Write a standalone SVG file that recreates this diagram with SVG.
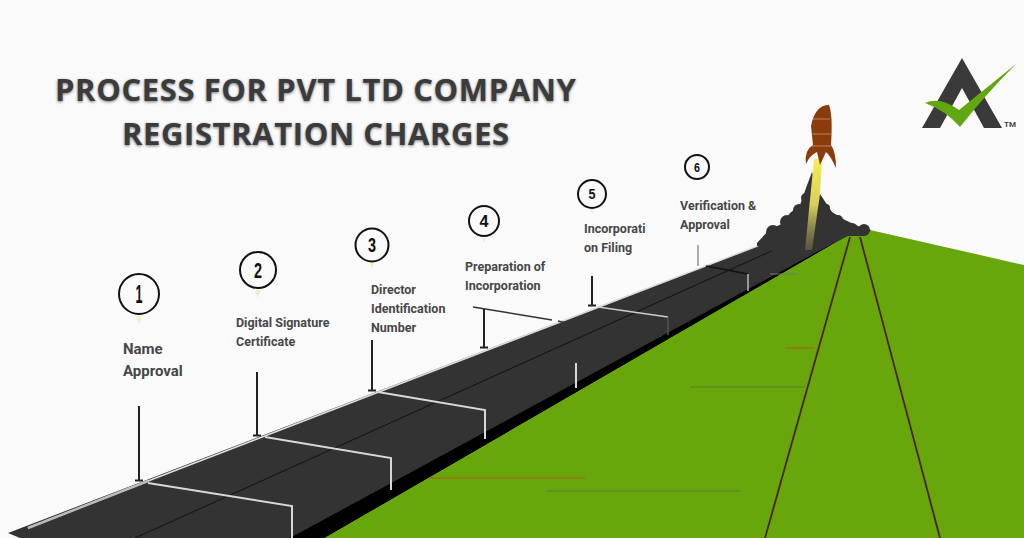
<svg xmlns="http://www.w3.org/2000/svg" width="1024" height="538" viewBox="0 0 1024 538">
<defs>
<filter id="sh" x="-5%" y="-20%" width="110%" height="140%"><feGaussianBlur stdDeviation="1.6"/></filter>
<filter id="sf" x="-5%" y="-5%" width="110%" height="110%"><feGaussianBlur stdDeviation="0.4"/></filter>
<linearGradient id="fl" x1="0" y1="0" x2="0" y2="1"><stop offset="0" stop-color="#f6ec5a"/><stop offset="0.5" stop-color="#d9cf5a"/><stop offset="1" stop-color="#8d8a50" stop-opacity="0.4"/></linearGradient>
</defs>
<style>
.t{font-family:"Open Sans","Liberation Sans",sans-serif;font-weight:700;font-size:31px;letter-spacing:.6px;fill:#3b3b3b}
.ts{fill:#777}
.l{font-family:Roboto,"Liberation Sans",sans-serif;font-weight:700;fill:#474747}
.c{fill:none;stroke:#111;stroke-width:2}
.n{font-family:"Liberation Sans",sans-serif;font-weight:700;fill:#111;text-anchor:middle}
.post{stroke:#222;stroke-width:2;fill:none}
.w{stroke:#d8d8d8;stroke-width:2;fill:none}
.y{fill:#f4efc0}
</style>
<rect width="1024" height="538" fill="#fafafa"/>
<g id="title">
<text class="t ts" x="55" y="102" filter="url(#sh)">PROCESS FOR PVT LTD COMPANY</text>
<text class="t ts" x="122" y="146" filter="url(#sh)">REGISTRATION CHARGES</text>
<text class="t" x="55" y="101">PROCESS FOR PVT LTD COMPANY</text>
<text class="t" x="122" y="145">REGISTRATION CHARGES</text>
</g>
<g id="logo">
<path d="M922 128L962 58L1002 128H984L962 88L940 128Z" fill="#3a3a3a"/>
<path d="M925 103Q940 96 959 110L1016 64Q985 95 960 127Q945 110 925 103Z" fill="#62a70f"/>
<text x="1004" y="127" font-family="Roboto,sans-serif" font-weight="700" font-size="8" fill="#444">TM</text>
</g>
<g id="ground">
<path d="M324 538L848 235L870 230L1024 265V538Z" fill="#68a70b"/>
<path d="M290 538L848 235L324 538Z" fill="#000"/>
<path d="M298 538L848 235L324 538Z" fill="#000"/>
</g>
<g id="road">
<path d="M8 533L760 245L800 232L848 235L300 538H20Z" fill="#333"/>
<path d="M290 538L848 235L324 538Z" fill="#000"/>
<path d="M28 528L148 481L760 245" fill="none" stroke="#ddd" stroke-width="1.5"/>
<path d="M28 528L148 481" fill="none" stroke="#bbb" stroke-width="2.5"/>
<path d="M135 538L787 244" stroke="#111" stroke-width="1" fill="none"/>
</g>
<g id="smoke" fill="#333">
<path d="M757 243L770 229L782 224L790 213L800 205L806 188L812 172L820 194L832 212L845 220L858 226L871 230L865 236L848 236L800 260L757 246Z"/>
<circle cx="773" cy="232" r="7"/><circle cx="787" cy="222" r="7"/><circle cx="799" cy="210" r="6"/><circle cx="806" cy="198" r="5"/><circle cx="864" cy="230" r="6"/><circle cx="852" cy="229" r="6"/><circle cx="838" cy="220" r="5"/><circle cx="826" cy="208" r="4"/>
</g>
<g id="rocket">
<path d="M814 159L822 159L820 194L812 250L805 250Z" fill="url(#fl)"/>
<path d="M806 164Q804 150 813 145L811 126Q815 105 829 105Q833 115 831 145Q836 152 836 168Q830 155 826 152L820 165L817 152Q810 155 806 164Z" transform="translate(0,0)" fill="#8a3c0a"/>
<path d="M813 119H830M811 134H831M812 146H831" stroke="#e0b090" stroke-width=".6" fill="none"/>
</g>
<g id="connectors">
<path class="w" d="M148 483L292 506V538M265 437L391 458V490M378 392L485 410V439M576 363V388"/>
<path d="M473 307L552 320M558 321L566 323" stroke="#333" stroke-width="1.5" fill="none"/>
<path d="M598 307L668 317" stroke="#ccc" stroke-width="1.5" fill="none"/><path d="M668 317V335" stroke="#555" stroke-width="1.5"/>
<path d="M706 266L748 274" stroke="#111" stroke-width="1.5" fill="none"/><path d="M748 274V291" stroke="#bbb" stroke-width="1.5"/>
<path class="post" d="M139 406V480M135 480.500H143M257 372V435M253 435.500H261M372 340V390M368 390.500H376M484 309V347M480 347.500H488M592 276V305M588 305.500H596"/>
<path d="M698 245V266" stroke="#777" stroke-width="1.2"/>
<path d="M765 538L850 237M860 237L940 538" stroke="#4a2408" stroke-width="1.8" fill="none"/>
<path d="M770 274H798" stroke="#777" stroke-width="1"/>
<path d="M785 348H815" stroke="#b5561c" stroke-width="1"/>
<path d="M690 387H805" stroke="#5a7a2a" stroke-width="1"/>
<path d="M430 478H585" stroke="#b5561c" stroke-width="1"/>
<path d="M547 491H740" stroke="#5a7a3a" stroke-width="1"/>
</g>
<g id="step1"><circle class="c" cx="139" cy="294" r="20"/><text class="n" x="139" y="303" font-size="25" textLength="7" lengthAdjust="spacingAndGlyphs">1</text><path class="y" d="M136 316H142L139 325Z"/><text class="l" font-size="15" x="123" y="354">Name</text><text class="l" font-size="15" x="123" y="376">Approval</text></g>
<g id="step2"><circle class="c" cx="258" cy="270" r="18"/><text class="n" x="258" y="278" font-size="22" textLength="8" lengthAdjust="spacingAndGlyphs">2</text><path class="y" d="M255 290H261L258 298Z"/><text class="l" font-size="12.500" x="236" y="327">Digital Signature</text><text class="l" font-size="12.500" x="236" y="346">Certificate</text></g>
<g id="step3"><circle class="c" cx="372" cy="245" r="16.500"/><text class="n" x="372" y="252" font-size="20" textLength="8" lengthAdjust="spacingAndGlyphs">3</text><path class="y" d="M370 263H374L372 269Z"/><text class="l" font-size="12.500" x="371" y="294">Director</text><text class="l" font-size="12.500" x="371" y="313">Identification</text><text class="l" font-size="12.500" x="371" y="332">Number</text></g>
<g id="step4"><circle class="c" cx="484" cy="221" r="15"/><text class="n" x="484" y="227" font-size="16" textLength="9" lengthAdjust="spacingAndGlyphs">4</text><path class="y" d="M482 238H486L484 243Z"/><text class="l" font-size="12.500" x="465" y="271">Preparation of</text><text class="l" font-size="12.500" x="465" y="290">Incorporation</text></g>
<g id="step5"><circle class="c" cx="592" cy="194" r="14"/><text class="n" x="592" y="199" font-size="14" textLength="7" lengthAdjust="spacingAndGlyphs">5</text><path class="y" d="M590 209H594L592 214Z"/><text class="l" font-size="12.500" x="584" y="233">Incorporati</text><text class="l" font-size="12.500" x="584" y="252">on Filing</text></g>
<g id="step6"><circle class="c" cx="697" cy="167" r="12"/><text class="n" x="697" y="172" font-size="13" textLength="6" lengthAdjust="spacingAndGlyphs">6</text><text class="l" font-size="12.500" x="680" y="210">Verification &amp;</text><text class="l" font-size="12.500" x="680" y="229">Approval</text></g>
</svg>
